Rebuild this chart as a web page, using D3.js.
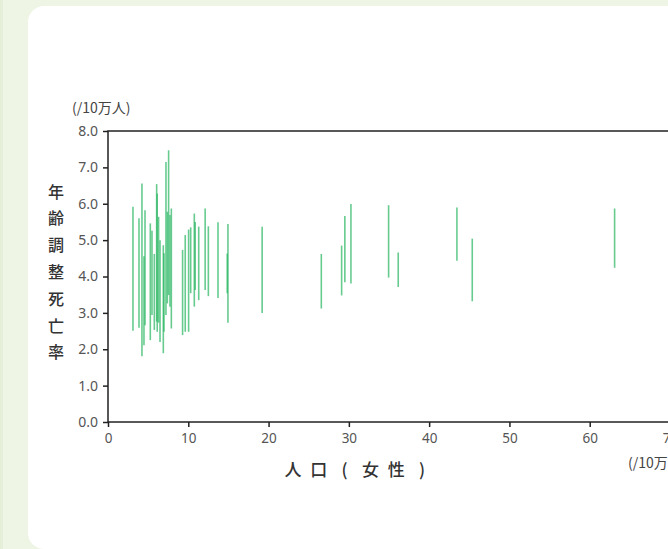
<!DOCTYPE html>
<html>
<head>
<meta charset="utf-8">
<script src="https://cdn.jsdelivr.net/npm/d3@7"></script>
<style>
  html, body { margin: 0; padding: 0; background: #eef5e4; overflow: hidden; }
  svg { display: block; }
  .tick text { font-family: "Noto Sans", "Open Sans", sans-serif; fill: #555; }
</style>
</head>
<body>
<svg width="668" height="549"></svg>
<script>
// population (women, /10万人), upper and lower values of the age-adjusted death rate
const population = [3.11, 3.86, 4.23, 4.48, 4.61, 5.27, 5.48, 5.77, 6.06, 6.13, 6.30, 6.48, 6.89, 6.97,
  7.22, 7.39, 7.55, 7.72, 7.89, 9.29, 9.62, 10.04, 10.3, 10.75, 10.86, 11.3, 12.1, 12.5, 13.7,
  14.94, 14.85, 19.2, 26.57, 29.1, 29.5, 30.26, 34.95, 36.15, 43.46, 45.37, 63.1];
const upper = [5.92, 5.60, 6.56, 4.56, 5.82, 5.46, 5.26, 4.62, 6.54, 6.28, 5.64, 5.00, 4.86, 4.64,
  7.15, 5.78, 7.47, 5.69, 5.87, 4.73, 5.14, 5.29, 5.35, 5.73, 5.50, 5.37, 5.87, 5.38, 5.49,
  5.44, 4.63, 5.37, 4.62, 4.85, 5.66, 5.99, 5.96, 4.66, 5.90, 5.04, 5.87];
const lower = [2.51, 2.59, 1.81, 2.11, 2.66, 2.25, 2.94, 2.53, 2.76, 2.48, 2.73, 2.20, 1.89, 2.48,
  2.94, 3.26, 3.49, 3.17, 2.57, 2.39, 2.48, 2.48, 3.54, 3.17, 3.63, 3.35, 3.63, 3.46, 3.41,
  2.73, 3.54, 3.00, 3.12, 3.48, 3.84, 3.81, 3.97, 3.71, 4.43, 3.32, 4.24];
const xTicks = [0, 10, 20, 30, 40, 50, 60, 70, 80];
const yTicks = [0, 1, 2, 3, 4, 5, 6, 7, 8];
const yTitle = ["年", "齢", "調", "整", "死", "亡", "率"];
const xTitle = ["人", "口", "(", "女", "性", ")"];

let svg = d3.select("svg");
let jp = '"Noto Sans CJK JP", "Noto Sans", sans-serif';

// background + card
svg.append("rect").attr("x", 0).attr("y", 0).attr("width", 668).attr("height", 549).attr("fill", "#eef5e4");
svg.append("rect").attr("x", 0).attr("y", 0).attr("width", 3).attr("height", 549).attr("fill", "#e5eed9");
svg.append("rect")
  .attr("x", 28).attr("y", 6)
  .attr("width", 720).attr("height", 543)
  .attr("rx", 16)
  .attr("fill", "#fff");

let x = d3.scaleLinear().domain([0, 70]).range([108, 670]);
let y = d3.scaleLinear().domain([0, 8]).range([422, 131]);

// frame
svg.append("rect")
  .attr("x", x(0)).attr("y", y(8))
  .attr("width", x(80) - x(0)).attr("height", y(0) - y(8))
  .attr("fill", "none")
  .attr("stroke", "#222")
  .attr("stroke-width", 1.5);

let data = population.map((p, i) => ({ p: p, hi: upper[i], lo: lower[i] }));

svg.append("g")
  .selectAll("line")
  .data(data)
  .enter().append("line")
  .attr("x1", d => x(d.p))
  .attr("x2", d => x(d.p))
  .attr("y1", d => y(d.hi))
  .attr("y2", d => y(d.lo))
  .attr("stroke", "#27b560")
  .attr("stroke-opacity", 0.7)
  .attr("stroke-width", 1.6);

let xAxis = d3.axisBottom(x).tickValues(xTicks).tickSize(5).tickPadding(6).tickFormat(d3.format("d"));
let gx = svg.append("g").attr("transform", `translate(0, ${y(0)})`).call(xAxis);
gx.select(".domain").remove();
gx.selectAll(".tick line").attr("stroke", "#222").attr("stroke-width", 1.5);
gx.selectAll(".tick text").attr("font-size", 13.5);

let yAxis = d3.axisLeft(y).tickValues(yTicks).tickSize(5).tickPadding(5).tickFormat(d3.format(".1f"));
let gy = svg.append("g").attr("transform", `translate(${x(0)}, 0)`).call(yAxis);
gy.select(".domain").remove();
gy.selectAll(".tick line").attr("stroke", "#222").attr("stroke-width", 1.5);
gy.selectAll(".tick text").attr("font-size", 14);

// units
svg.append("text")
  .attr("x", 72).attr("y", 113)
  .attr("font-family", jp).attr("font-size", 14).attr("fill", "#444")
  .text("(/10万人)");
svg.append("text")
  .attr("x", 628).attr("y", 468)
  .attr("font-family", jp).attr("font-size", 14).attr("fill", "#444")
  .text("(/10万人)");

// y title, stacked vertically
svg.append("g")
  .selectAll("text")
  .data(yTitle)
  .enter().append("text")
  .attr("x", 56)
  .attr("y", (d, i) => 192 + i * 26.8)
  .attr("dy", "0.35em")
  .attr("text-anchor", "middle")
  .attr("font-family", jp).attr("font-size", 16).attr("font-weight", 500).attr("fill", "#333")
  .text(d => d);

// x title, spaced out
svg.append("g")
  .selectAll("text")
  .data(xTitle)
  .enter().append("text")
  .attr("x", (d, i) => 293 + i * 25.8)
  .attr("y", 470)
  .attr("dy", "0.35em")
  .attr("text-anchor", "middle")
  .attr("font-family", jp).attr("font-size", 17).attr("font-weight", 500).attr("fill", "#333")
  .text(d => d);
</script>
</body>
</html>
